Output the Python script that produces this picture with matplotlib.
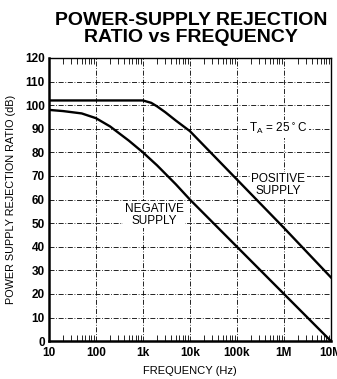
import numpy as np
import matplotlib.pyplot as plt
from matplotlib.ticker import FixedLocator, LogLocator, NullFormatter

# PSRR curves, frequency in Hz and rejection in dB
neg_freq = [10, 20, 50, 100, 200, 500, 1e3, 2e3, 5e3, 1e4, 1e5, 1e6, 1e7]
neg_psrr = [98, 97.5, 96.5, 94.5, 91, 85, 80, 74.5, 66.5, 60, 40, 20, 0]

pos_freq = [10, 100, 500, 1e3, 1.5e3, 2e3, 3e3, 5e3, 1e4, 1e5, 1e6, 1e7]
pos_psrr = [102, 102, 102, 102, 101, 99.5, 97, 93.5, 89, 68.5, 48, 27]

x_ticks = [10, 100, 1e3, 1e4, 1e5, 1e6, 1e7]
x_labels = ['10', '100', '1k', '10k', '100k', '1M', '10M']
y_ticks = list(range(0, 121, 10))

plt.rcParams['font.family'] = ['Liberation Sans', 'DejaVu Sans']

fig = plt.figure(figsize=(3.37, 3.79), dpi=100)
ax = fig.add_axes([0.145, 0.100, 0.837, 0.747])

ax.semilogx(pos_freq, pos_psrr, color='black', lw=1.7, zorder=3)
ax.semilogx(neg_freq, neg_psrr, color='black', lw=1.7, zorder=3)

ax.set_xlim(10, 1e7)
ax.set_ylim(0, 120)
ax.xaxis.set_major_locator(FixedLocator(x_ticks))
ax.set_xticklabels(x_labels, fontweight='bold', fontsize=8.5)
ax.xaxis.set_minor_locator(LogLocator(base=10, subs=np.arange(2, 10), numticks=20))
ax.xaxis.set_minor_formatter(NullFormatter())
ax.set_yticks(y_ticks)
ax.set_yticklabels([str(v) for v in y_ticks], fontweight='bold', fontsize=8.5)

ax.set_axisbelow(True)
ax.grid(True, which='major', color='black', lw=0.6, ls=(0, (6, 2, 1, 2)))
ax.tick_params(which='both', direction='in', top=True, right=False, length=0)
ax.tick_params(which='minor', axis='x', length=4, width=0.6)
ax.tick_params(which='major', axis='x', length=0, pad=4)
ax.tick_params(axis='y', pad=3)

for side in ['left', 'bottom']:
    ax.spines[side].set_linewidth(1.8)
for side in ['top', 'right']:
    ax.spines[side].set_linewidth(1.0)

box = dict(facecolor='white', edgecolor='none', pad=1)
ax.text(7.6e5, 90, r'T$_\mathregular{A}$ = 25$^\circ$C', fontsize=8.5,
        ha='center', va='center', bbox=box, zorder=2)
ax.text(7.6e5, 66, 'POSITIVE\nSUPPLY', fontsize=8.5, ha='center',
        va='center', linespacing=1.0, bbox=box, zorder=2)
ax.text(1.74e3, 53.6, 'NEGATIVE\nSUPPLY', fontsize=8.5, ha='center',
        va='center', linespacing=1.0, bbox=box, zorder=2)

ax.set_xlabel('FREQUENCY (Hz)', fontsize=8, labelpad=5)
ax.set_ylabel('POWER SUPPLY REJECTION RATIO (dB)', fontsize=7.8, labelpad=6)

fig.text(0.567, 0.968, 'POWER-SUPPLY REJECTION\nRATIO vs FREQUENCY',
         ha='center', va='top', fontsize=14, fontweight='bold', linespacing=1.0)

fig.savefig('out.png', dpi=100)
